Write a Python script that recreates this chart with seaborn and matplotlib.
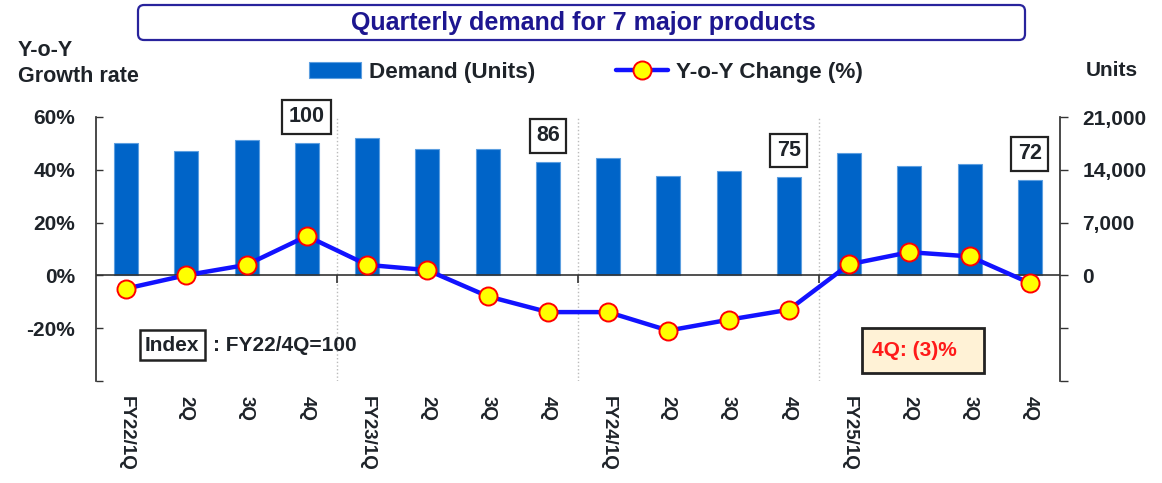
import numpy as np
import pandas as pd
import seaborn as sns
import matplotlib.pyplot as plt
from matplotlib.patches import FancyBboxPatch, Rectangle

# quarters FY22/1Q .. FY25/4Q
quarters = ['FY22/1Q', '2Q', '3Q', '4Q',
            'FY23/1Q', '2Q', '3Q', '4Q',
            'FY24/1Q', '2Q', '3Q', '4Q',
            'FY25/1Q', '2Q', '3Q', '4Q']
demand = [17500, 16530, 18000, 17600,
          18230, 16790, 16700, 15060,
          15540, 13200, 13780, 13110,
          16260, 14440, 14740, 12670]
yoy_change = [-5.0, 0.1, 4.0, 14.9,
              4.0, 2.0, -7.9, -13.9,
              -13.9, -20.9, -16.8, -13.0,
              4.2, 8.8, 7.2, -2.9]
# index (FY22/4Q = 100) shown above each 4Q bar
index_pos = [3, 7, 11, 15]
index_values = [100, 86, 75, 72]

df = pd.DataFrame({'pos': np.arange(len(quarters)), 'demand': demand, 'yoy': yoy_change})

sns.set_theme(style='white')
plt.rcParams['font.family'] = ['Liberation Sans', 'DejaVu Sans']
plt.rcParams['font.weight'] = 'bold'
dark = '#1e2329'

fig = plt.figure(figsize=(11.62, 4.83), dpi=100)
ax = fig.add_axes([96 / 1162, 1 - 381 / 483, 964 / 1162, 264 / 483])
ax2 = ax.twinx()

# bars on the right (units) axis
sns.barplot(data=df, x='pos', y='demand', ax=ax2, color='#0064c8', saturation=1,
            width=0.4, edgecolor='#5d9fe0', linewidth=0.8)
# line on the left (%) axis
sns.lineplot(data=df, x='pos', y='yoy', ax=ax, color='#1212ff', lw=3.2, marker='o',
             markersize=13, markerfacecolor='#ffff00', markeredgecolor='#ff0000',
             markeredgewidth=1.4, legend=False)
ax.set_zorder(ax2.get_zorder() + 1)
ax.patch.set_visible(False)
if ax2.get_legend() is not None:
    ax2.get_legend().remove()

ax.set_xlim(-0.5, len(quarters) - 0.5)
ax.set_ylim(-40, 60)
ax2.set_ylim(-14000, 21000)

# year separators
seps = [3.5, 7.5, 11.5]
for s in seps:
    ax.axvline(s, color='#bbbbbb', ls=':', lw=1, zorder=0)
ax.axhline(0, color='#333333', lw=1.2, zorder=1)
ax.vlines(seps, -3, 0, color='#333333', lw=1.2)

ax.set_xticks(range(len(quarters)))
ax.set_xticklabels(quarters, rotation=270, fontsize=13.5, fontweight='bold', color=dark)
ax.tick_params(axis='x', length=0, pad=11)

pct_ticks = [-40, -20, 0, 20, 40, 60]
ax.set_yticks(pct_ticks)
ax.set_yticklabels(['' if t == -40 else f'{t}%' for t in pct_ticks],
                   fontsize=15, fontweight='bold', color=dark)
ax.tick_params(axis='y', direction='in', length=5, width=1, color='#333333', pad=15)

unit_ticks = [-14000, -7000, 0, 7000, 14000, 21000]
ax2.set_yticks(unit_ticks)
ax2.set_yticklabels(['' if t < 0 else f'{t:,}' for t in unit_ticks],
                    fontsize=15, fontweight='bold', color=dark)
ax2.tick_params(axis='y', direction='out', length=6, width=1, color='#333333', pad=10)

ax.set_xlabel('')
ax.set_ylabel('')
ax2.set_xlabel('')
ax2.set_ylabel('')
for name, sp in ax.spines.items():
    sp.set_visible(name == 'left')
    sp.set_color('#333333')
for name, sp in ax2.spines.items():
    sp.set_visible(name == 'right')
    sp.set_color('#333333')

# index boxes above 4Q bars
for p, v in zip(index_pos, index_values):
    ax2.annotate(str(v), xy=(p, demand[p]), xytext=(0, 26), textcoords='offset pixels',
                 ha='center', va='center', fontsize=15.5, fontweight='bold', color=dark,
                 bbox=dict(boxstyle='square,pad=0.3', fc='white', ec='#222222', lw=1.6))

# notes
ax.text(0.079, 0.136, 'Index', transform=ax.transAxes, ha='center', va='center',
        fontsize=15, fontweight='bold', color=dark,
        bbox=dict(boxstyle='square,pad=0.25', fc='white', ec='#222222', lw=1.8))
ax.text(0.121, 0.136, ': FY22/4Q=100', transform=ax.transAxes, ha='left', va='center',
        fontsize=15, fontweight='bold', color=dark)
ax.add_patch(Rectangle((0.7946, 0.0303), 0.1266, 0.1705, transform=ax.transAxes,
                       fc='#fff2d6', ec='#222222', lw=2, zorder=5))
ax.text(0.805, 0.116, '4Q: (3)%', transform=ax.transAxes, ha='left', va='center',
        fontsize=15, fontweight='bold', color='#ff1a1a', zorder=6)

# title box
fig.patches.append(FancyBboxPatch((1.38, 4.43), 8.87, 0.35, boxstyle='round,pad=0,rounding_size=0.06',
                                  transform=fig.dpi_scale_trans, fc='white', ec='#28239c', lw=1.6))
fig.text(583 / 1162, 1 - 23 / 483, 'Quarterly demand for 7 major products', ha='center', va='center',
         fontsize=18, fontweight='bold', color='#1d1690')

fig.text(18 / 1162, 1 - 40 / 483, 'Y-o-Y\nGrowth rate', ha='left', va='top', fontsize=15.5,
         fontweight='bold', color=dark, linespacing=1.3)
fig.text(1112 / 1162, 1 - 71 / 483, 'Units', ha='center', va='center', fontsize=15,
         fontweight='bold', color=dark)

handles = ax2.patches[:1] + ax.get_lines()[:1]
fig.legend(handles, ['Demand (Units)', 'Y-o-Y Change (%)'], loc='center',
           bbox_to_anchor=(586 / 1162, 1 - 72 / 483), ncol=2, frameon=False,
           handlelength=2.3, handletextpad=0.35, columnspacing=3.6,
           labelcolor=dark, prop={'weight': 'bold', 'size': 16.2})

fig.savefig('out.png', dpi=100)
